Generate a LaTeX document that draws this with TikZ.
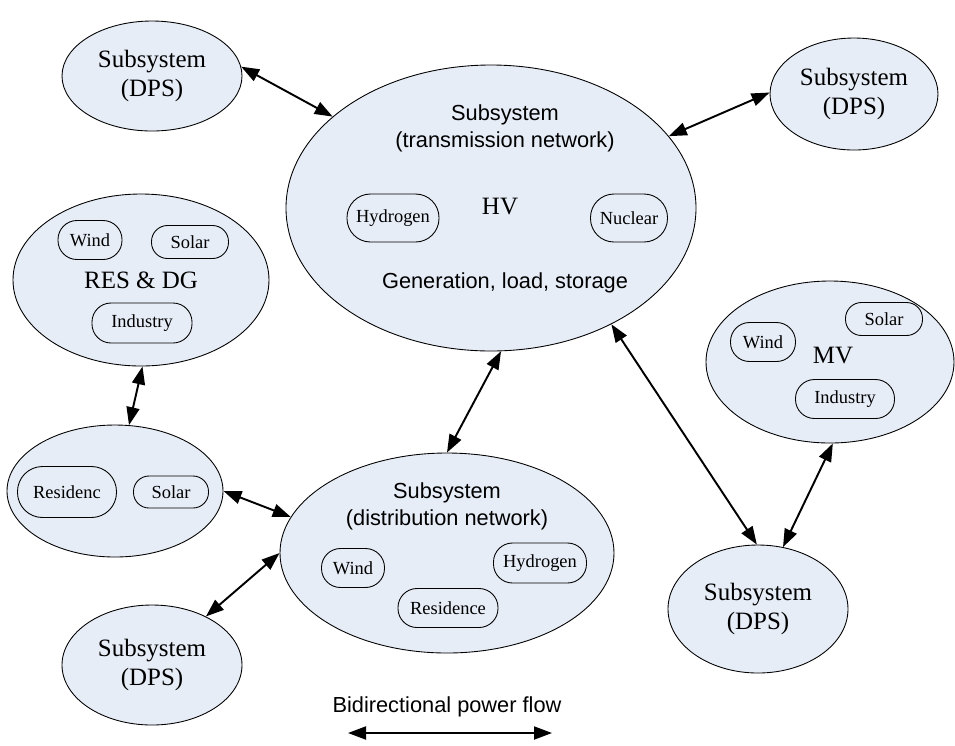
\documentclass[tikz,border=0pt]{standalone}
\usepackage{fontspec}
\setmainfont{Liberation Serif}
\setsansfont{Liberation Sans}
\usepackage{tikz}
\usetikzlibrary{shapes.geometric,arrows.meta}
\definecolor{subfill}{RGB}{231,237,247}
\tikzstyle{subsys}=[ellipse, draw, fill=subfill, line width=.5pt, inner sep=0pt]
\tikzstyle{unit}=[rectangle, draw, fill=subfill, line width=.5pt, inner sep=0pt,
                  rounded corners=3.8mm, font=\fontsize{10.5}{12}\selectfont]
\tikzstyle{big}=[align=center, font=\fontsize{14.2}{16.5}\selectfont]
\tikzstyle{sans}=[align=center, font=\sffamily\fontsize{12.4}{15.5}\selectfont]
\tikzstyle{flow}=[<->, >={Triangle[length=3.6mm,width=2.6mm]}, line width=1.1pt]

\begin{document}
\begin{tikzpicture}[x=0.2mm,y=-0.2mm]
	\useasboundingbox (0,0) rectangle (955,745);

	\node[subsys, big, minimum width=36mm, minimum height=22mm] (dpsnw) at (152,76) {Subsystem\\(DPS)};
	\node[subsys, big, minimum width=33.6mm, minimum height=22.4mm] (dpsne) at (854,94) {Subsystem\\(DPS)};
	\node[subsys, big, minimum width=36mm, minimum height=25.6mm] (dpsse) at (758,609) {Subsystem\\(DPS)};
	\node[subsys, big, minimum width=36mm, minimum height=24mm] (dpssw) at (152,665) {Subsystem\\(DPS)};

	\node[subsys, minimum width=82mm, minimum height=57.2mm] (trans) at (491,208) {};
	\node[sans] (transtitle) at (505,128) {Subsystem\\(transmission network)};
	\node[big] (hv) at (500,207) {HV};
	\node[unit, minimum width=18.4mm, minimum height=9.6mm, rounded corners=4.7mm] (thydro) at (393,218) {Hydrogen};
	\node[unit, minimum width=15.4mm, minimum height=9.6mm, rounded corners=4.7mm] (tnuke) at (629,218) {Nuclear};
	\node[sans] (gen) at (505,283) {Generation, load, storage};

	\node[subsys, minimum width=51.2mm, minimum height=34.4mm] (res) at (141,280) {};
	\node[unit, minimum width=12.8mm, minimum height=7.8mm] (rwind) at (90,240) {Wind};
	\node[unit, minimum width=15.4mm, minimum height=6.6mm, rounded corners=3.2mm] (rsolar) at (190,242) {Solar};
	\node[big] (restitle) at (141,280) {RES \& DG};
	\node[unit, minimum width=20mm, minimum height=8mm] (rind) at (142,323) {Industry};

	\node[subsys, minimum width=43.2mm, minimum height=26.4mm] (home) at (115,491) {};
	\node[unit, minimum width=19.8mm, minimum height=10.2mm, rounded corners=5mm] (hres) at (67,492) {Residenc};
	\node[unit, minimum width=15mm, minimum height=6.4mm, rounded corners=3.1mm] (hsolar) at (171,492) {Solar};

	\node[subsys, minimum width=66.8mm, minimum height=40mm] (dist) at (447,553) {};
	\node[sans] (disttitle) at (447,506) {Subsystem\\(distribution network)};
	\node[unit, minimum width=12.6mm, minimum height=7.8mm] (dwind) at (353,568) {Wind};
	\node[unit, minimum width=18.6mm, minimum height=8mm] (dhydro) at (540,563) {Hydrogen};
	\node[unit, minimum width=20mm, minimum height=7.8mm] (dres) at (448,608) {Residence};

	\node[subsys, minimum width=49.6mm, minimum height=32.4mm] (mv) at (830,362) {};
	\node[unit, minimum width=13mm, minimum height=7.8mm] (mwind) at (763,342) {Wind};
	\node[unit, minimum width=15.4mm, minimum height=6.6mm, rounded corners=3.2mm] (msolar) at (884,319) {Solar};
	\node[big] (mvtitle) at (833,356) {MV};
	\node[unit, minimum width=19.8mm, minimum height=7.8mm] (mind) at (845,399) {Industry};

	\draw[flow] (dpsnw.6) -- (trans.150);
	\draw[flow] (dpsne.179) -- (trans.22);
	\draw[flow] (res.-89) -- (home.78);
	\draw[flow] (home.0) -- (dist.167);
	\draw[flow] (dist.90) -- (trans.-86);
	\draw[flow] (trans.-44) -- (dpsse.91);
	\draw[flow] (mv.-88) -- (dpsse.68);
	\draw[flow] (dist.180) -- (dpssw.42);

	\node[sans] (legend) at (447,707) {Bidirectional power flow};
	\coordinate (flowl) at (348,733);
	\coordinate (flowr) at (552,733);
	\draw[flow] (flowl) -- (flowr);
\end{tikzpicture}
\end{document}
